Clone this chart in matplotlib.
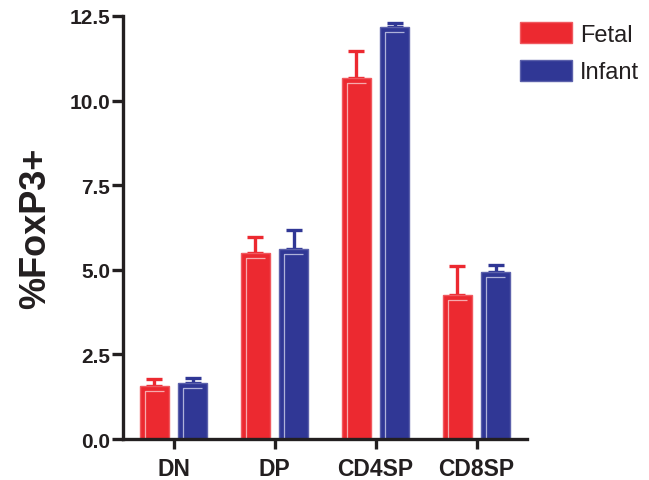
import numpy as np
import matplotlib.pyplot as plt
from matplotlib.patches import Patch

plt.rcParams['font.family'] = ['Liberation Sans', 'DejaVu Sans']

groups = ['DN', 'DP', 'CD4SP', 'CD8SP']
fetal = [1.57, 5.49, 10.67, 4.26]
fetal_err = [0.20, 0.48, 0.80, 0.84]
infant = [1.65, 5.61, 12.18, 4.94]
infant_err = [0.15, 0.57, 0.10, 0.19]
series = ['Fetal', 'Infant']

red = '#ec2930'
blue = '#303795'
red_edge = '#f0595f'
blue_edge = '#5c61ab'
red_hi = '#f7a9ac'
blue_hi = '#aeb1d9'

fig = plt.figure(figsize=(6.49, 4.81), dpi=100)
ax = fig.add_axes([123/649, 1-440/481, (527-123)/649, (440-17)/481])

x = np.arange(len(groups))
w = 0.29
off = 0.19

def draw(xs, vals, errs, col, edge, hi):
    ax.bar(xs, vals, w, color=col, edgecolor=edge, linewidth=1.0, zorder=2)
    ax.errorbar(xs, vals, yerr=[np.zeros(len(vals)), errs], fmt='none',
                ecolor=col, elinewidth=2.4, capsize=5.5, capthick=2.4, zorder=1)
    # light inner highlight (left + top)
    dx, dy = 0.05, 0.15
    for xi, v in zip(xs, vals):
        l = xi - w/2 + dx
        r = xi + w/2 - dx
        ax.plot([l, l, r], [0, v - dy, v - dy], color=hi, lw=0.9, zorder=3,
                solid_capstyle='butt')

draw(x - off, fetal, fetal_err, red, red_edge, red_hi)
draw(x + off, infant, infant_err, blue, blue_edge, blue_hi)

ax.set_xlim(-0.5, 3.5)
ax.set_ylim(0, 12.5)
ax.set_yticks([0, 2.5, 5, 7.5, 10, 12.5])
ax.set_yticklabels(['0.0', '2.5', '5.0', '7.5', '10.0', '12.5'])
ax.set_xticks(x)
ax.set_xticklabels(groups)
for s in ['top', 'right']:
    ax.spines[s].set_visible(False)
for s in ['left', 'bottom']:
    ax.spines[s].set_linewidth(2.4)
    ax.spines[s].set_color('#231f20')
    ax.spines[s].set_zorder(5)
ax.tick_params(axis='y', length=8, width=2.4, color='#231f20', pad=1, labelsize=15)
ax.tick_params(axis='x', length=7, width=2.4, color='#231f20', pad=6, labelsize=16.5)
for t in ax.get_xticklabels() + ax.get_yticklabels():
    t.set_fontweight('bold')
    t.set_color('#231f20')
ax.set_ylabel('%FoxP3+', fontsize=26, fontweight='bold', color='#231f20', labelpad=12)

handles = [Patch(facecolor=red, edgecolor=red_edge), Patch(facecolor=blue, edgecolor=blue_edge)]
fig.legend(handles, series, loc='upper left', bbox_to_anchor=(520/649, 1-23/481),
           frameon=False, fontsize=17, handlelength=2.2, handleheight=1.0,
           labelspacing=0.6, handletextpad=0.35, borderpad=0, borderaxespad=0,
           labelcolor='#231f20')

fig.savefig('out.png', dpi=100)
